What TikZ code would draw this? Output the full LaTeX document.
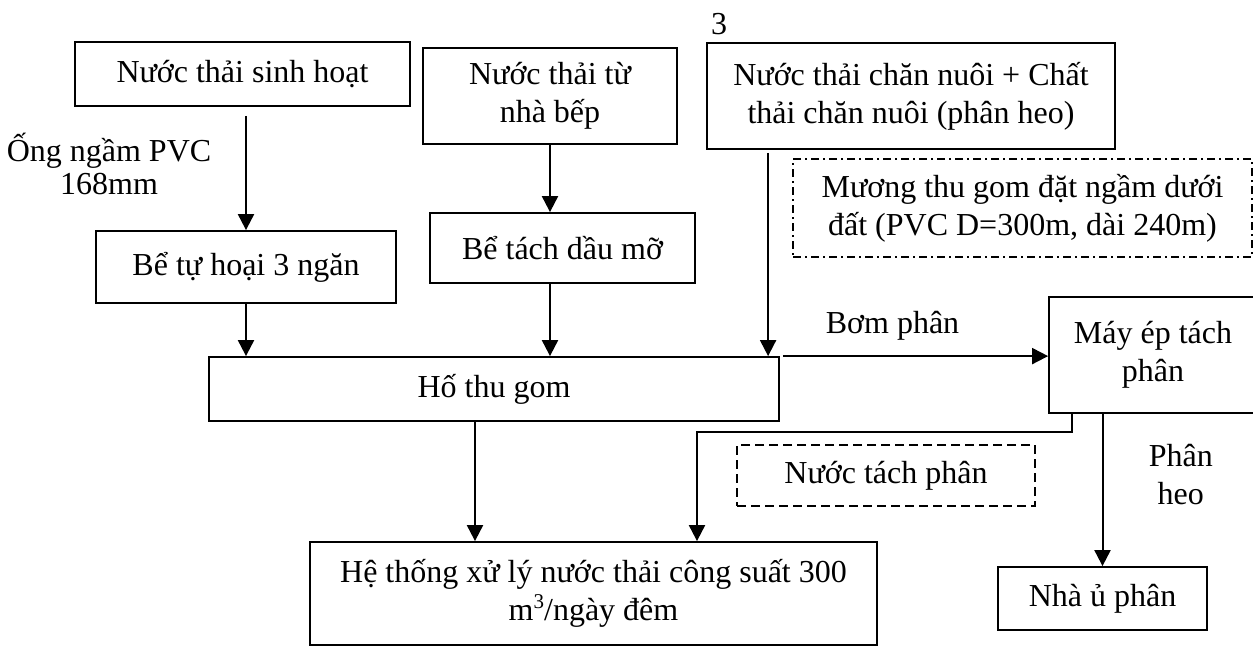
\documentclass[tikz,border=0pt]{standalone}
\usepackage{fontspec}
\setmainfont{Liberation Serif}
\usetikzlibrary{arrows.meta, positioning, calc}
\tikzset{
  box/.style={draw, line width=1.8pt, inner sep=0pt, align=center, font=\fontsize{32}{38}\selectfont},
  dbox/.style={box, line width=1.5pt, dash pattern=on 9pt off 5pt},
  ddbox/.style={box, line width=1.5pt, dash pattern=on 8pt off 4pt on 2pt off 4pt},
  arr/.style={-{Triangle[length=16pt, width=16pt]}, line width=2pt},
  note/.style={align=center, font=\fontsize{32}{38}\selectfont},
}

\begin{document}
\begin{tikzpicture}[x=1pt, y=-1pt]
    \useasboundingbox (0,0) rectangle (1253,646);
    % sources
    \node[box, minimum width=335, minimum height=64] (sh) at (242.5,74) {Nước thải sinh hoạt};
    \node[box, minimum width=254, minimum height=96] (bep) at (550,96) {Nước thải từ\\nhà bếp};
    \node[box, minimum width=408, minimum height=106] (cn) at (911,96) {Nước thải chăn nuôi + Chất\\thải chăn nuôi (phân heo)};
    \node[note] (num) at (719,24) {3};
    \node[note, font=\fontsize{32}{33}\selectfont] (ong) at (109,164) {Ống ngầm PVC\\168mm};
    % pre-treatment
    \node[box, minimum width=300, minimum height=72] (tuhoai) at (246,267) {Bể tự hoại 3 ngăn};
    \node[box, minimum width=265, minimum height=70] (dau) at (562.5,248) {Bể tách dầu mỡ};
    \node[ddbox, minimum width=459, minimum height=98] (muong) at (1022.5,208) {Mương thu gom đặt ngầm dưới\\đất (PVC D=300m, dài 240m)};
    % collection and treatment
    \node[box, minimum width=570, minimum height=64] (ho) at (494,389) {Hố thu gom};
    \node[box, minimum width=208, minimum height=116] (may) at (1153,355) {Máy ép tách\\phân};
    \node[dbox, minimum width=298, minimum height=61] (ntp) at (886,475.5) {Nước tách phân};
    \node[box, minimum width=567, minimum height=103] (xl) at (593.5,593.5) {Hệ thống xử lý nước thải công suất 300\\m\raisebox{0.38em}{\fontsize{21}{21}\selectfont 3}/ngày đêm};
    \node[box, minimum width=209, minimum height=63] (nhau) at (1102.5,598.5) {Nhà ủ phân};
    % connectors
    \coordinate (drop) at ([xshift=62pt]cn.south west);
    \coordinate (hoout) at ([xshift=-19pt]ho.south);
    \coordinate (mayout) at ([xshift=24pt]may.south west);
    \coordinate (bend) at (697,432);
    \draw[arr, shorten <=9pt] (tuhoai.north |- sh.south) -- (tuhoai.north);
    \draw[arr] (bep.south) -- (bep.south |- dau.north);
    \draw[arr] (tuhoai.south) -- (tuhoai.south |- ho.north);
    \draw[arr] (bep.south |- dau.south) -- (bep.south |- ho.north);
    \draw[arr, shorten <=3pt] (drop) -- (drop |- ho.north);
    \draw[arr, shorten <=3pt] (ho.north east) -- (ho.north east -| may.west)
        node[note, pos=0.42, above=11pt] {Bơm phân};
    \draw[arr] (hoout) -- (hoout |- xl.north);
    \draw[arr] (mayout) |- (bend) -- (bend |- xl.north);
    \draw[arr] (nhau.north |- may.south) -- (nhau.north)
        node[note, pos=0.4, right=42pt] {Phân\\heo};
\end{tikzpicture}
\end{document}
